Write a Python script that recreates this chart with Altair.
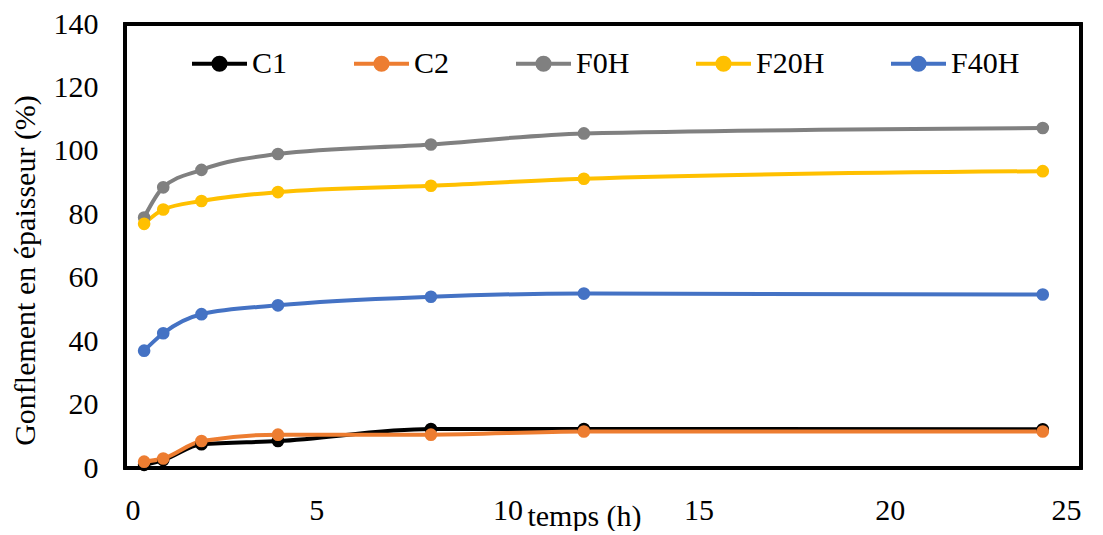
import altair as alt
import pandas as pd

hours = [0.5, 1, 2, 4, 8, 12, 24]
series_names = ["C1", "C2", "F0H", "F20H", "F40H"]
c1 = [1.0, 2.5, 7.5, 8.5, 12.3, 12.3, 12.2]
c2 = [2.0, 3.0, 8.5, 10.5, 10.5, 11.5, 11.5]
f0h = [79.0, 88.5, 94.0, 99.0, 102.0, 105.5, 107.2]
f20h = [77.0, 81.5, 84.2, 87.0, 89.0, 91.2, 93.6]
f40h = [37.0, 42.5, 48.5, 51.3, 54.0, 55.0, 54.7]
colors = ["#000000", "#ED7D31", "#808080", "#FFC000", "#4472C4"]
x_ticks = [0, 5, 10, 15, 20, 25]
y_ticks = [0, 20, 40, 60, 80, 100, 120, 140]
x_domain = [0, 25]
y_domain = [0, 140]

rows = []
for name, vals in zip(series_names, [c1, c2, f0h, f20h, f40h]):
    for h, v in zip(hours, vals):
        rows.append({"temps": h, "gonflement": v, "serie": name})
df = pd.DataFrame(rows)

FONT = "Liberation Serif"
legend_path = ("M-1,0L1,0"
               "M0.22,0A0.22,0.22,0,1,1,-0.22,0A0.22,0.22,0,1,1,0.22,0"
               "M0.12,0A0.12,0.12,0,1,1,-0.12,0A0.12,0.12,0,1,1,0.12,0"
               "M0.04,0A0.04,0.04,0,1,1,-0.04,0A0.04,0.04,0,1,1,0.04,0")

color = alt.Color(
    "serie:N",
    scale=alt.Scale(domain=series_names, range=colors),
    sort=series_names,
    legend=alt.Legend(
        title=None, orient="none", direction="horizontal",
        legendX=65, legendY=10,
        symbolType=legend_path, symbolSize=3025, symbolStrokeWidth=4,
        labelFont=FONT, labelFontSize=30, labelColor="#000000",
        labelOffset=3, columnPadding=58, labelLimit=300,
    ),
)

xscale = alt.Scale(domain=x_domain, nice=False)
yscale = alt.Scale(domain=y_domain, nice=False)

x = alt.X("temps:Q", scale=xscale,
          axis=alt.Axis(values=x_ticks, title="temps (h)", grid=False, ticks=False,
                        domain=False, labelFont=FONT, labelFontSize=30,
                        labelColor="#000000", labelPadding=27,
                        titleFont=FONT, titleFontSize=30, titleFontWeight="normal",
                        titleColor="#000000", titleX=459, titleY=57,
                        titleAlign="center", titleBaseline="alphabetic"))
y = alt.Y("gonflement:Q", scale=yscale,
          axis=alt.Axis(values=y_ticks, title="Gonflement en épaisseur (%)", grid=False,
                        ticks=False, domain=False, labelFont=FONT, labelFontSize=30,
                        labelColor="#000000", labelPadding=27,
                        titleFont=FONT, titleFontSize=30, titleFontWeight="normal",
                        titleColor="#000000", titleX=-100, titleY=246,
                        titleAngle=-90, titleAlign="center", titleBaseline="middle"))

frame = alt.Chart(df).mark_rect(fill=None, stroke="#000000", strokeWidth=2.5).encode(
    x=alt.X(datum=x_domain[0], scale=xscale),
    x2=alt.X2(datum=x_domain[1]),
    y=alt.Y(datum=y_domain[0], scale=yscale),
    y2=alt.Y2(datum=y_domain[1]),
)
lines = alt.Chart(df).mark_line(interpolate="monotone", strokeWidth=4).encode(
    x=x, y=y, color=color, order="temps:Q")
points = alt.Chart(df).mark_point(filled=True, size=160, opacity=1).encode(
    x=x, y=y, color=alt.Color("serie:N", scale=alt.Scale(domain=series_names, range=colors),
                              legend=None))

chart = alt.layer(frame, lines, points).properties(
    width=956, height=444,
    background="white",
    view=alt.ViewBackground(stroke=None),
    autosize=alt.AutoSizeParams(type="none"),
    padding={"left": 117, "top": 16, "right": 14, "bottom": 63},
)

chart.save("out.html", embed_options={"renderer": "svg", "actions": False})
